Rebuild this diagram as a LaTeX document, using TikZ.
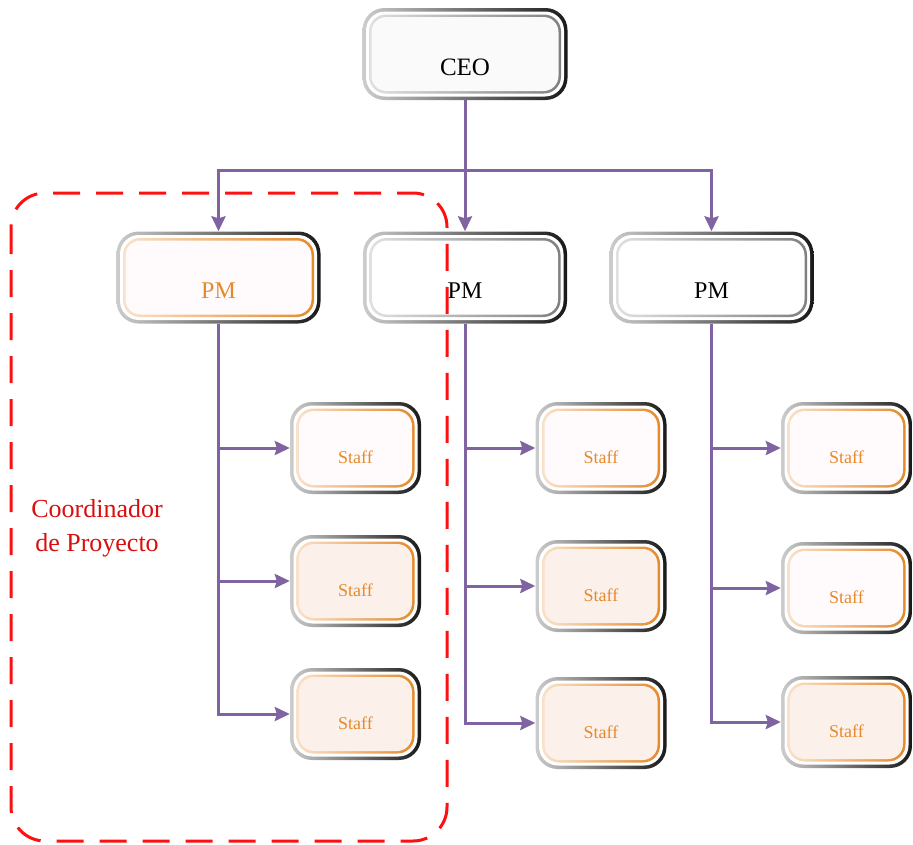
\documentclass[tikz,border=0pt]{standalone}
\usepackage{fontspec}
\setmainfont{Liberation Serif}
\usetikzlibrary{arrows.meta, calc}
\definecolor{lila}{HTML}{8064A2}
\definecolor{naranja}{HTML}{E58A2C}
\definecolor{durazno}{HTML}{FCF1EA}
\definecolor{rosado}{HTML}{FFFBFC}
\definecolor{rojo}{HTML}{FF1010}

\tikzset{
    caja/.style n args={3}{rounded corners=22pt, path picture={
        \shade[left color=black!20, right color=black!90] (path picture bounding box.south west) rectangle (path picture bounding box.north east);
        \fill[white, rounded corners=19pt] ([shift={(3.5pt,3.5pt)}]path picture bounding box.south west) rectangle ([shift={(-3.5pt,-3.5pt)}]path picture bounding box.north east);
        \shade[left color=#1, right color=#2, rounded corners=17pt] ([shift={(6.5pt,6.5pt)}]path picture bounding box.south west) rectangle ([shift={(-6.5pt,-6.5pt)}]path picture bounding box.north east);
        \fill[#3, rounded corners=15pt] ([shift={(9pt,9pt)}]path picture bounding box.south west) rectangle ([shift={(-9pt,-9pt)}]path picture bounding box.north east);
    }},
    jefe/.style={caja={black!12}{black!50}{#1}, minimum width=205pt, minimum height=92pt, text height=44pt, text depth=2pt, font=\fontsize{25}{26}\selectfont},
    pm/.style={caja=#1, minimum width=204pt, minimum height=92pt, text height=44pt, text depth=2pt, font=\fontsize{24}{25}\selectfont},
    staff/.style={caja={naranja!25}{naranja}{#1}, minimum width=131pt, minimum height=92pt, text height=32pt, text depth=2pt, text=naranja, font=\fontsize{18}{19}\selectfont},
    linea/.style={lila, line width=3pt},
}

\begin{document}
\begin{tikzpicture}[x=1pt, y=-1pt, >={Stealth[length=15pt,width=14pt,inset=2pt]}]
    \useasboundingbox (0,0) rectangle (913,844);

    % jefes
    \node[jefe={black!2}] (ceo) at (465,54) {CEO};
    \node[pm={{naranja!25}{naranja}{rosado}}, text=naranja] (pm1) at (218.5,277.5) {PM};
    \node[pm={{black!12}{black!50}{white}}] (pm2) at (465,277.5) {PM};
    \node[pm={{black!12}{black!50}{white}}] (pm3) at (711.5,277.5) {PM};

    % staff
    \node[staff=rosado] (s11) at (355.5,448) {Staff};
    \node[staff=durazno] (s12) at (355.5,581) {Staff};
    \node[staff=durazno] (s13) at (355.5,714) {Staff};
    \node[staff=rosado] (s21) at (601,448) {Staff};
    \node[staff=durazno] (s22) at (601,586) {Staff};
    \node[staff=durazno] (s23) at (601,723) {Staff};
    \node[staff=rosado] (s31) at (846.5,448) {Staff};
    \node[staff=rosado] (s32) at (846.5,588) {Staff};
    \node[staff=durazno] (s33) at (846.5,722) {Staff};

    % conectores
    \coordinate (nudo) at (465,170);
    \draw[linea] (ceo.south) -- (nudo);
    \foreach \p in {pm1,pm2,pm3}
        \draw[linea,->] (nudo) -| (\p.north);
    \foreach \c/\p in {1/pm1,2/pm2,3/pm3}
        \foreach \r in {1,2,3}
            \draw[linea,->] (\p.south) |- (s\c\r.west);

    % coordinador
    \draw[rojo, line width=3pt, dash pattern=on 27pt off 16pt, rounded corners=34pt] (11,193) rectangle (447,841);
    \node[text=rojo!85!black, align=center, font=\fontsize{26}{34}\selectfont] (coord) at (97,528) {Coordinador\\de Proyecto};

\end{tikzpicture}
\end{document}
